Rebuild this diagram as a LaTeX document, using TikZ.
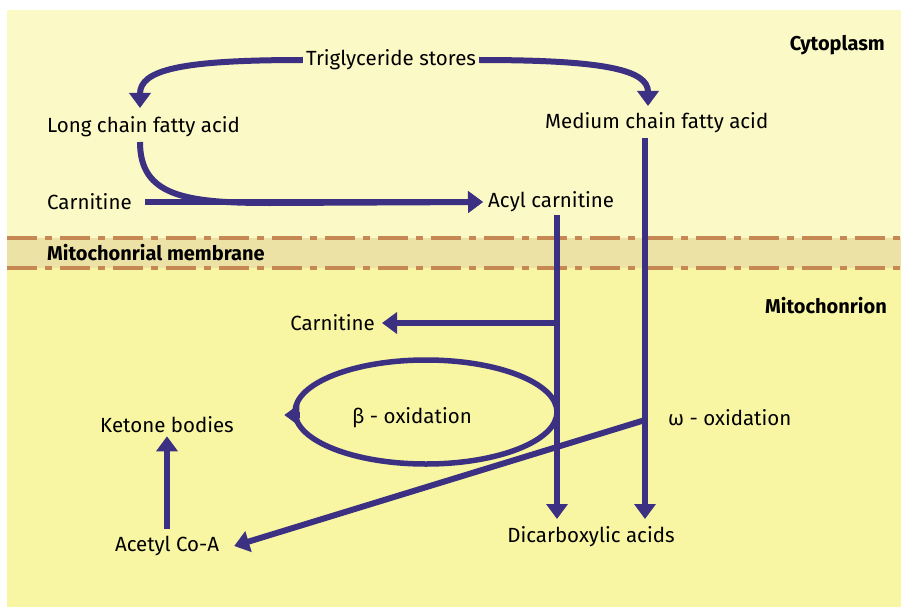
\documentclass[tikz,border=0pt]{standalone}
\usepackage{fontspec}
\setmainfont{Fira Sans}
\usetikzlibrary{arrows.meta,shapes.geometric}
\definecolor{cytoc}{RGB}{251,249,198}
\definecolor{mitoc}{RGB}{249,246,163}
\definecolor{bandc}{RGB}{237,226,165}
\definecolor{dashc}{RGB}{198,136,82}
\definecolor{flowc}{RGB}{60,48,130}
\begin{document}
\begin{tikzpicture}[x=1pt, y=-1pt,
    every node/.style={font=\fontsize{20.5}{24}\selectfont, inner sep=3pt},
    every label/.style={font=\fontsize{20.5}{24}\selectfont},
    region/.style={font=\fontsize{20}{24}\selectfont\bfseries},
    flow/.style={draw=flowc, line width=6pt, -{Triangle[width=21pt,length=15pt]}},
    membrane/.style={draw=dashc, line width=4pt, dash pattern=on 30pt off 8pt on 7pt off 8pt}]
    \useasboundingbox (0,0) rectangle (901,607);
    \fill[white] (0,0) rectangle (901,607);
    % Regions
    \fill[cytoc] (7,10) rectangle (901,238);
    \fill[bandc] (7,238) rectangle (901,268);
    \fill[mitoc] (7,268) rectangle (901,607);
    \draw[membrane] (7,238) -- (901,238);
    \draw[membrane] (7,268) -- (901,268);
    \node[region, anchor=east] (cyto) at (888,45) {Cytoplasm};
    \node[region, anchor=west] (memb) at (44,253) {Mitochonrial membrane};
    \node[region, anchor=east] (mito) at (890,306) {Mitochonrion};
    % Compounds
    \node (tg) at (391,60) {Triglyceride stores};
    \node[anchor=west] (lcfa) at (44,127) {Long chain fatty acid};
    \node[anchor=west] (mcfa) at (542,123) {Medium chain fatty acid};
    \node[anchor=west] (carnA) at (44,202) {Carnitine};
    \node[anchor=west] (acyl) at (485,202) {Acyl carnitine};
    \node[anchor=east] (carnB) at (378,323) {Carnitine};
    \node[anchor=west] (omega) at (665,418) {ω - oxidation};
    \node (ket) at (167,425) {Ketone bodies};
    \node (acoa) at (167,546) {Acetyl Co-A};
    \node (dca) at (591,537) {Dicarboxylic acids};
    \node[draw=flowc, line width=5.5pt, ellipse, minimum width=262pt, minimum height=104pt,
        label={[xshift=-14pt,yshift=-6pt]center:β - oxidation}] (beta) at (426,412) {};
    % Free ends
    \coordinate (lcfaIn) at (140,108);
    \coordinate (lcfaOut) at (140,142);
    \coordinate (mcfaIn) at (648,106);
    \coordinate (mcfaOut) at (645,138);
    \coordinate (acylOut) at (557,215);
    \coordinate (carnOut) at (557,323);
    \coordinate (omegaOut) at (645,420);
    \coordinate (dcaA) at (557,519);
    \coordinate (dcaB) at (645,519);
    % Flows
    \draw[flow] (tg.west) .. controls (180,60) and (140,70) .. (lcfaIn);
    \draw[flow] (tg.east) .. controls (605,60) and (648,70) .. (mcfaIn);
    \draw[flow] (lcfaOut) .. controls (140,196) and (185,203) .. (270,203) -- ([xshift=-2pt]acyl.west);
    \draw[flow] ([xshift=10pt]carnA.east) -- ([xshift=-2pt]acyl.west);
    \draw[flow] (acylOut) -- (dcaA);
    \draw[flow] (mcfaOut) -- (dcaB);
    \draw[flow] (carnOut) -- ([xshift=4pt]carnB.east);
    \draw[flow] (omegaOut) -- ([xshift=12pt]acoa.east);
    \draw[flow] ([yshift=4pt]acoa.north) -- (ket.south);
    \draw[flow] ([xshift=8pt,yshift=-3pt]beta.west) -- ([xshift=-8pt,yshift=-3pt]beta.west);
\end{tikzpicture}
\end{document}
